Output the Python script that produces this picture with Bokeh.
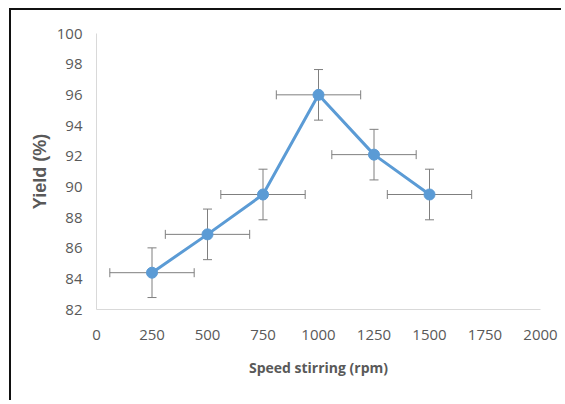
from bokeh.plotting import figure
from bokeh.models import ColumnDataSource, Whisker, FixedTicker, Range1d, TeeHead
from bokeh.embed import file_html
from bokeh.resources import INLINE

speed = [250, 500, 750, 1000, 1250, 1500]
yield_pct = [84.4, 86.9, 89.5, 96.0, 92.1, 89.5]
y_err = [1.62, 1.65, 1.65, 1.65, 1.65, 1.65]
x_err = [190, 190, 190, 190, 190, 190]
x_ticks = [0, 250, 500, 750, 1000, 1250, 1500, 1750, 2000]
y_ticks = [82, 84, 86, 88, 90, 92, 94, 96, 98, 100]

src = ColumnDataSource(dict(
    x=speed, y=yield_pct,
    ylo=[v - e for v, e in zip(yield_pct, y_err)],
    yhi=[v + e for v, e in zip(yield_pct, y_err)],
    xlo=[v - e for v, e in zip(speed, x_err)],
    xhi=[v + e for v, e in zip(speed, x_err)],
))

W, H = 552, 392
p = figure(width=W, height=H, output_backend="svg", toolbar_location=None,
           x_range=Range1d(0, 2000), y_range=Range1d(82, 100),
           min_border_left=85, min_border_right=23, min_border_top=23, min_border_bottom=93,
           margin=(8, 0, 0, 9),
           styles={"border-left": "2px solid #111111", "border-top": "2px solid #111111",
                   "border-right": "0px none transparent", "border-bottom": "0px none transparent",
                   "outline": "none", "box-shadow": "none"})
p.outline_line_color = None
p.xgrid.grid_line_color = None
p.ygrid.grid_line_color = None

FONT = "Open Sans"
for ax in (p.xaxis[0], p.yaxis[0]):
    ax.axis_line_color = "#d9d9d9"
    ax.axis_line_width = 1
    ax.major_tick_line_color = None
    ax.minor_tick_line_color = None
    ax.major_tick_out = 0
    ax.major_tick_in = 0
    ax.major_label_text_font = FONT
    ax.major_label_text_font_size = "15px"
    ax.major_label_text_color = "#595959"
    ax.axis_label_text_color = "#595959"
    ax.axis_label_text_font_style = "bold"

p.xaxis.ticker = FixedTicker(ticks=x_ticks)
p.yaxis.ticker = FixedTicker(ticks=y_ticks)
p.xaxis.major_label_standoff = 20
p.yaxis.major_label_standoff = 14
p.xaxis.axis_label = "Speed stirring (rpm)"
p.xaxis.axis_label_text_font = FONT
p.xaxis.axis_label_text_font_size = "14px"
p.xaxis.axis_label_standoff = 15
p.yaxis.axis_label = "Yield (%)"
p.yaxis.axis_label_text_font = "Liberation Sans"
p.yaxis.axis_label_text_font_size = "18px"
p.yaxis.axis_label_standoff = 4

ecol = "#7f7f7f"
vw = Whisker(source=src, base="x", lower="ylo", upper="yhi", dimension="height",
             line_color=ecol, line_width=1, level="underlay",
             lower_head=TeeHead(size=9, line_color=ecol, line_width=1),
             upper_head=TeeHead(size=9, line_color=ecol, line_width=1))
hw = Whisker(source=src, base="y", lower="xlo", upper="xhi", dimension="width",
             line_color=ecol, line_width=1, level="underlay",
             lower_head=TeeHead(size=9, line_color=ecol, line_width=1),
             upper_head=TeeHead(size=9, line_color=ecol, line_width=1))
p.add_layout(vw)
p.add_layout(hw)

p.line("x", "y", source=src, line_color="#5b9bd5", line_width=3)
p.scatter("x", "y", source=src, size=11, fill_color="#5b9bd5", line_color="#5b9bd5")

open("out.html", "w").write(file_html(p, INLINE))
